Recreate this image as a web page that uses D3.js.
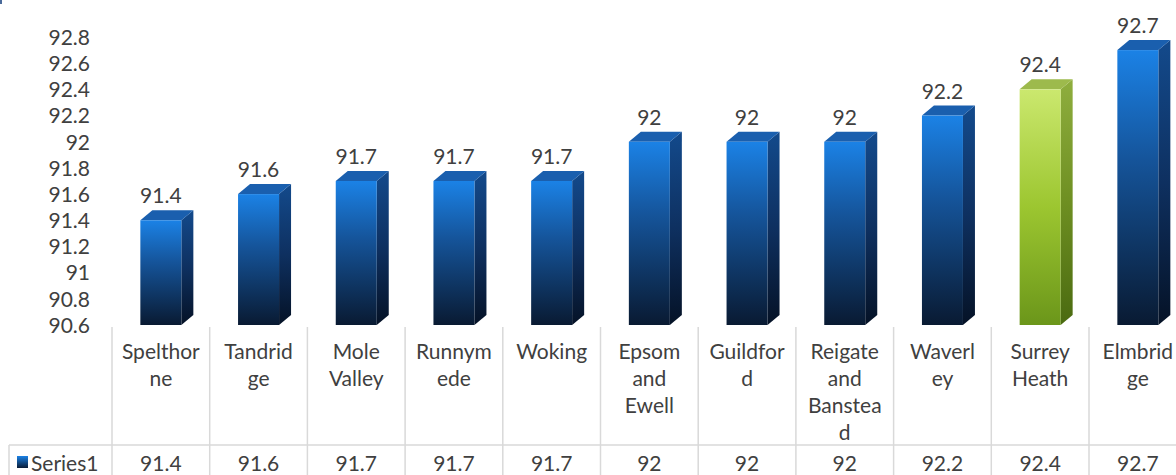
<!DOCTYPE html>
<html>
<head>
<meta charset="utf-8">
<script src="https://cdn.jsdelivr.net/npm/d3@7"></script>
<style>
  html, body { margin: 0; padding: 0; background: #ffffff; }
  svg { display: block; }
  text { font-family: Lato, "Open Sans", sans-serif; fill: #404040; }
</style>
</head>
<body>
<svg id="chart" width="1176" height="475"></svg>
<script>
// ---- data ----
const categories = ["Spelthorne", "Tandridge", "Mole Valley", "Runnymede", "Woking",
  "Epsom and Ewell", "Guildford", "Reigate and Banstead", "Waverley", "Surrey Heath", "Elmbridge"];
const categoryLines = [["Spelthor", "ne"], ["Tandrid", "ge"], ["Mole", "Valley"], ["Runnym", "ede"],
  ["Woking"], ["Epsom", "and", "Ewell"], ["Guildfor", "d"], ["Reigate", "and", "Banstea", "d"],
  ["Waverl", "ey"], ["Surrey", "Heath"], ["Elmbrid", "ge"]];
const values = [91.4, 91.6, 91.7, 91.7, 91.7, 92, 92, 92, 92.2, 92.4, 92.7];
const valueLabels = ["91.4", "91.6", "91.7", "91.7", "91.7", "92", "92", "92", "92.2", "92.4", "92.7"];
const highlighted = ["Surrey Heath"];
const seriesName = "Series1";
const yTicks = [90.6, 90.8, 91, 91.2, 91.4, 91.6, 91.8, 92, 92.2, 92.4, 92.6, 92.8];
const yDomain = [90.6, 92.8];

// ---- layout ----
const svg = d3.select("#chart");
const plotLeft = 112, colW = 97.7;
const baseY = 325, topY = 37;
const tableTop = 327, rowLine = 445, tableLeft = 9;
const frontW = 41, depthX = 12, depthY = 10;
const fs = "21px";

const x = d3.scaleBand().domain(categories).range([plotLeft, plotLeft + colW * categories.length]).padding(0);
const y = d3.scaleLinear().domain(yDomain).range([baseY, topY]);

// gradients
const defs = svg.append("defs");
function grad(id, stops) {
  const g = defs.append("linearGradient").attr("id", id)
    .attr("x1", 0).attr("y1", 0).attr("x2", 0).attr("y2", 1);
  stops.forEach(s => g.append("stop").attr("offset", s[0]).attr("stop-color", s[1]));
}
grad("blueFront", [[0, "#1b82e6"], [0.4, "#15549a"], [1, "#091a32"]]);
grad("blueSide", [[0, "#134a8c"], [0.5, "#0e3060"], [1, "#051226"]]);
grad("greenFront", [[0, "#cbe86e"], [0.5, "#9cc630"], [1, "#6b961a"]]);
grad("greenSide", [[0, "#8fae3e"], [0.5, "#6e8f22"], [1, "#4a6a10"]]);
grad("legendKey", [[0, "#1b82e6"], [1, "#0a1c36"]]);

// tiny corner mark
svg.append("rect").attr("x", 0).attr("y", 0).attr("width", 2).attr("height", 4).attr("fill", "#4a6a9a");

// y axis
const yAxis = d3.axisLeft(y).tickValues(yTicks).tickSize(0).tickPadding(0).tickFormat(d => d3.format("")(+d.toFixed(1)));
const gy = svg.append("g").attr("transform", "translate(90,0)").call(yAxis);
gy.select(".domain").remove();
gy.selectAll("text").style("font-size", fs).style("font-family", "Lato, 'Open Sans', sans-serif").attr("fill", "#404040").attr("dy", "0.35em");

// bars
const bars = svg.append("g").selectAll("g").data(categories).join("g");
bars.each(function(c, i) {
  const g = d3.select(this);
  const isHi = highlighted.includes(c);
  const cx = x(c) + x.bandwidth() / 2;
  const x0 = cx - frontW / 2, x1 = cx + frontW / 2;
  const yt = y(values[i]);
  // side face
  g.append("polygon")
    .attr("points", [[x1, yt], [x1 + depthX, yt - depthY], [x1 + depthX, baseY - depthY], [x1, baseY]].map(p => p.join(",")).join(" "))
    .attr("fill", isHi ? "url(#greenSide)" : "url(#blueSide)");
  // top face
  g.append("polygon")
    .attr("points", [[x0, yt], [x0 + depthX, yt - depthY], [x1 + depthX, yt - depthY], [x1, yt]].map(p => p.join(",")).join(" "))
    .attr("fill", isHi ? "#9dba4c" : "#1a5fae");
  // front face
  g.append("rect").attr("x", x0).attr("y", yt).attr("width", frontW).attr("height", baseY - yt)
    .attr("fill", isHi ? "url(#greenFront)" : "url(#blueFront)");
  // value label
  g.append("text").attr("x", cx).attr("y", yt - 17).attr("text-anchor", "middle")
    .style("font-size", fs).text(valueLabels[i]);
});

// data table lines
const lineColor = "#d9d9d9";
const tbl = svg.append("g");
const bounds = categories.map(c => x(c)).concat([x(categories[categories.length - 1]) + x.bandwidth()]);
tbl.selectAll("line.v").data(bounds).join("line").attr("class", "v")
  .attr("x1", d => d).attr("x2", d => d).attr("y1", tableTop).attr("y2", 475)
  .attr("stroke", lineColor).attr("stroke-width", 1.5);
tbl.append("line").attr("x1", tableLeft).attr("x2", 1176).attr("y1", rowLine).attr("y2", rowLine)
  .attr("stroke", lineColor).attr("stroke-width", 1.5);
tbl.append("line").attr("x1", tableLeft).attr("x2", tableLeft).attr("y1", rowLine).attr("y2", 475)
  .attr("stroke", lineColor).attr("stroke-width", 1.5);

// category labels
categories.forEach((c, i) => {
  const cx = x(c) + x.bandwidth() / 2;
  const t = tbl.append("text").attr("text-anchor", "middle").style("font-size", fs);
  categoryLines[i].forEach((ln, j) => {
    t.append("tspan").attr("x", cx).attr("y", 359 + j * 27).text(ln);
  });
  tbl.append("text").attr("x", cx).attr("y", 471).attr("text-anchor", "middle")
    .style("font-size", fs).text(valueLabels[i]);
});

// legend key + series name
tbl.append("rect").attr("x", 17).attr("y", 456).attr("width", 11).attr("height", 12).attr("fill", "url(#legendKey)");
tbl.append("text").attr("x", 31).attr("y", 471).style("font-size", fs).text(seriesName);
</script>
</body>
</html>
